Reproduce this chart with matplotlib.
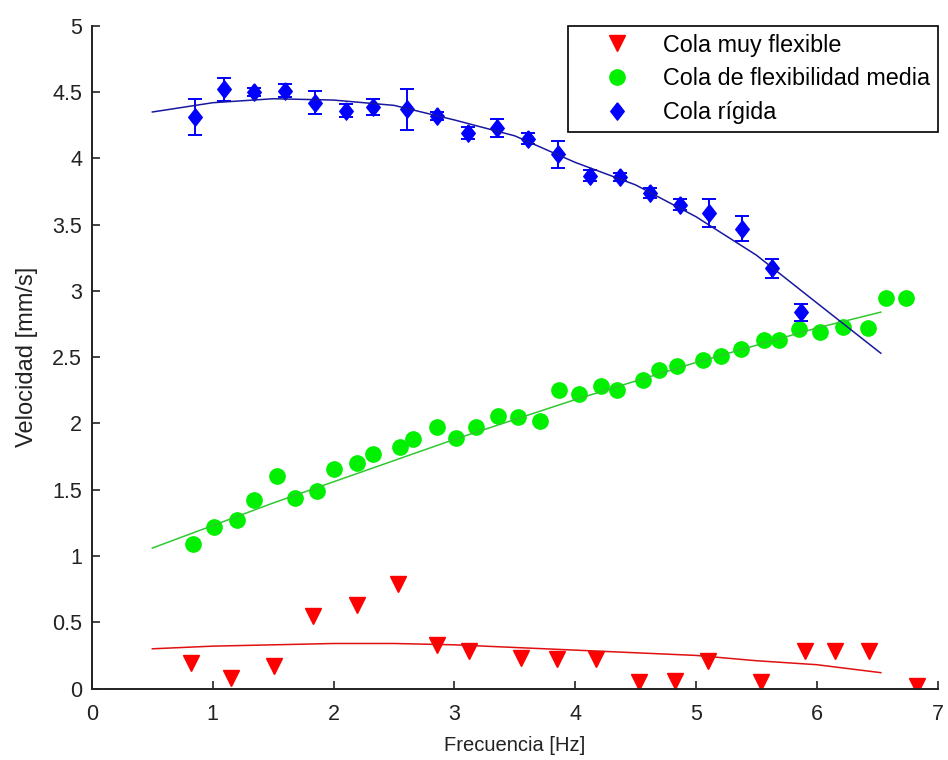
import matplotlib
matplotlib.use("Agg")
import matplotlib.pyplot as plt

plt.rcParams["font.family"] = ["Liberation Sans", "DejaVu Sans"]

# Cola muy flexible (red triangles)
x_flex = [0.82, 1.15, 1.51, 1.83, 2.19, 2.53, 2.86, 3.12, 3.55, 3.85, 4.17,
          4.53, 4.83, 5.10, 5.54, 5.90, 6.15, 6.43, 6.83]
v_flex = [0.19, 0.08, 0.17, 0.55, 0.63, 0.79, 0.33, 0.28, 0.23, 0.22, 0.22,
          0.05, 0.06, 0.21, 0.05, 0.28, 0.28, 0.28, 0.02]

# Cola de flexibilidad media (green circles)
x_media = [0.84, 1.01, 1.20, 1.34, 1.53, 1.68, 1.86, 2.00, 2.19, 2.33, 2.55,
           2.66, 2.86, 3.01, 3.18, 3.36, 3.53, 3.71, 3.87, 4.03, 4.21, 4.35,
           4.56, 4.69, 4.84, 5.06, 5.21, 5.37, 5.56, 5.69, 5.85, 6.03, 6.22,
           6.42, 6.57, 6.74]
v_media = [1.09, 1.22, 1.27, 1.42, 1.60, 1.44, 1.49, 1.66, 1.70, 1.77, 1.82,
           1.88, 1.97, 1.89, 1.97, 2.06, 2.05, 2.02, 2.25, 2.22, 2.28, 2.25,
           2.33, 2.40, 2.43, 2.48, 2.51, 2.56, 2.63, 2.63, 2.71, 2.69, 2.73,
           2.72, 2.95, 2.95]

# Cola rigida (blue diamonds with error bars)
x_rigida = [0.85, 1.09, 1.34, 1.60, 1.85, 2.10, 2.33, 2.61, 2.86, 3.11, 3.35,
            3.61, 3.86, 4.12, 4.37, 4.62, 4.87, 5.11, 5.38, 5.63, 5.87]
v_rigida = [4.31, 4.52, 4.50, 4.51, 4.42, 4.36, 4.39, 4.37, 4.32, 4.19, 4.23,
            4.15, 4.03, 3.87, 3.86, 3.74, 3.65, 3.59, 3.47, 3.17, 2.84]
err_rigida = [0.135, 0.09, 0.03, 0.05, 0.085, 0.05, 0.06, 0.155, 0.03, 0.045,
              0.07, 0.04, 0.10, 0.04, 0.03, 0.04, 0.04, 0.105, 0.095, 0.07, 0.065]

# fitted curves
x_fit = [0.5, 1.0, 1.5, 2.0, 2.5, 3.0, 3.5, 4.0, 4.5, 5.0, 5.5, 6.0, 6.53]
fit_flex = [0.30, 0.32, 0.33, 0.34, 0.34, 0.33, 0.31, 0.29, 0.27, 0.25, 0.21, 0.18, 0.12]
fit_media = [1.06, 1.23, 1.40, 1.56, 1.72, 1.88, 2.03, 2.18, 2.32, 2.46, 2.59, 2.72, 2.84]
fit_rigida = [4.35, 4.42, 4.45, 4.44, 4.40, 4.29, 4.17, 3.97, 3.80, 3.56, 3.27, 2.91, 2.53]

# tall diamond like the matlab one
diamond = [(0, 1), (0.78, 0), (0, -1), (-0.78, 0), (0, 1)]

fig = plt.figure(figsize=(9.48, 7.6), dpi=100)
ax = fig.add_axes([0.097, 0.094, 0.892, 0.872])

ax.plot(x_flex, v_flex, "v", color="#ff0000", markersize=12, label="Cola muy flexible")
ax.plot(x_media, v_media, "o", color="#00f000", markersize=11,
        label="Cola de flexibilidad media")
ax.errorbar(x_rigida, v_rigida, yerr=err_rigida, fmt="none", ecolor="#0000ff",
            capsize=4.8, elinewidth=1.4, capthick=1.4)
ax.plot(x_rigida, v_rigida, linestyle="none", marker=diamond, color="#0000ff",
        markersize=12.5, label="Cola rígida")

ax.plot(x_fit, fit_flex, "-", color="#e01010", lw=1.1)
ax.plot(x_fit, fit_media, "-", color="#30c830", lw=1.1)
ax.plot(x_fit, fit_rigida, "-", color="#1818a0", lw=1.1)

ax.set_xlim(0, 7)
ax.set_ylim(0, 5)
ax.set_xticks(range(0, 8))
ax.set_yticks([0, 0.5, 1, 1.5, 2, 2.5, 3, 3.5, 4, 4.5, 5])
ax.set_yticklabels(["0", "0.5", "1", "1.5", "2", "2.5", "3", "3.5", "4", "4.5", "5"])
ax.tick_params(direction="in", labelsize=15.5, length=6, width=1.2, colors="#222222")
ax.tick_params(axis="x", pad=11)
ax.tick_params(axis="y", pad=7)
ax.spines["top"].set_visible(False)
ax.spines["right"].set_visible(False)
ax.spines["left"].set_linewidth(1.4)
ax.spines["bottom"].set_linewidth(1.4)
ax.spines["left"].set_color("#222222")
ax.spines["bottom"].set_color("#222222")
ax.set_xlabel("Frecuencia [Hz]", fontsize=14.5, color="#222222", labelpad=8)
ax.set_ylabel("Velocidad [mm/s]", fontsize=17, color="#222222", labelpad=10)

leg = ax.legend(loc="upper right", bbox_to_anchor=(1.0, 1.0), borderaxespad=0,
                fontsize=16.8, fancybox=False, edgecolor="black", framealpha=1,
                handletextpad=0.15, borderpad=0.33, handlelength=3.6,
                labelspacing=0.46)
leg.get_frame().set_linewidth(1.2)

fig.savefig("out.png", dpi=100)
